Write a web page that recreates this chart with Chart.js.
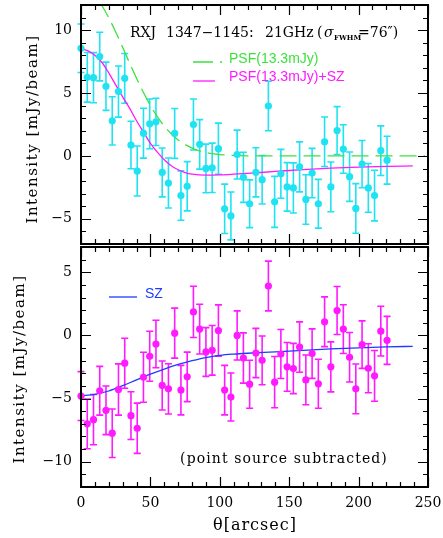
<!DOCTYPE html>
<html>
<head>
<meta charset="utf-8">
<script src="https://cdn.jsdelivr.net/npm/chart.js@4.4.0/dist/chart.umd.min.js"></script>
<style>
  html, body { margin: 0; padding: 0; background: #fff; }
  #wrap { position: relative; width: 443px; height: 538px; overflow: hidden; }
  canvas { position: absolute; left: 0; }
  #top { top: 0; }
  #bottom { top: 240px; }
</style>
</head>
<body>
<div id="wrap">
  <canvas id="top" width="443" height="248"></canvas>
  <canvas id="bottom" width="443" height="298"></canvas>
</div>
<script>
// radial bins (arcsec)
const theta = [0, 4.5, 9, 13.5, 18, 22.5, 27, 31.5, 36, 40.5, 45, 49.5, 54, 58.5, 63, 67.5,
  72, 76.5, 81, 85.5, 90, 94.5, 99, 103.5, 108, 112.5, 117, 121.5, 126, 130.5, 135, 139.5,
  144, 148.5, 153, 157.5, 162, 166.5, 171, 175.5, 180, 184.5, 189, 193.5, 198, 202.5, 207,
  211.5, 216, 220.5];

// measured profile (top panel)
const totalI = [8.56, 6.25, 6.22, 7.9, 5.54, 2.79, 5.12, 6.17, 0.87, -1.2, 1.81, 2.55, 2.71,
  -1.31, -2.15, 1.79, -3.15, -2.41, 2.5, 0.92, -0.99, -0.94, 0.58, -4.2, -4.77, 0.11, -1.7,
  -3.8, -1.3, -1.89, 3.97, -3.65, -1.42, -2.46, -2.54, -0.87, -3.46, -1.36, -3.8, 1.13, -2.46,
  2.02, 0.55, -1.65, -4.17, -0.65, -2.54, -3.15, 0.42, -0.34];

// point source subtracted profile (bottom panel)
const subI = [-4.8, -7.0, -6.67, -4.38, -5.93, -7.74, -4.28, -2.2, -6.35, -7.35, -3.31, -1.65,
  -0.68, -3.96, -4.23, 0.18, -4.33, -3.28, 1.86, 0.5, -1.31, -1.18, 0.39, -4.33, -4.88, 0.0,
  -1.79, -3.86, -1.39, -1.97, 3.91, -3.7, -1.47, -2.49, -2.62, -0.92, -3.52, -1.44, -3.83,
  1.08, -2.49, 1.97, 0.5, -1.73, -4.23, -0.73, -2.6, -3.2, 0.34, -0.39];

// 1 sigma errors
const errI = [1.93, 1.97, 1.99, 1.93, 1.92, 1.92, 2.03, 1.98, 1.89, 1.99, 1.98, 1.98, 1.88,
  1.94, 1.99, 1.98, 1.96, 1.96, 2.03, 1.97, 1.93, 1.96, 2.03, 1.96, 1.9, 1.94, 1.99, 1.9, 1.95,
  1.93, 1.97, 2.03, 1.94, 1.93, 1.99, 1.99, 1.97, 1.96, 1.94, 1.97, 1.98, 1.9, 1.93, 1.96,
  1.97, 1.88, 1.94, 2.01, 1.97, 1.9];

// model curves
const psfTheta = [0, 5, 10, 15, 20, 25, 30, 35, 40, 45, 50, 55, 60, 65, 70, 80, 90, 100, 110, 120, 130, 248];
const psfVal = [13.3, 13.14, 12.68, 11.96, 10.98, 9.86, 8.64, 7.39, 6.18, 5.04, 4.01, 3.12, 2.37,
  1.76, 1.27, 0.62, 0.27, 0.11, 0.04, 0.01, 0, 0];

const psfSzTheta = [0, 5, 10, 15, 20, 25, 30, 35, 40, 45, 50, 55, 60, 65, 70, 75, 80, 90, 100,
  110, 120, 140, 160, 180, 200, 220, 239];
const psfSzVal = [8.55, 8.35, 8.0, 7.45, 6.6, 5.65, 4.7, 3.8, 2.8, 1.9, 1.0, 0.3, -0.3, -0.78,
  -1.1, -1.32, -1.45, -1.52, -1.5, -1.45, -1.39, -1.23, -1.08, -0.97, -0.89, -0.83, -0.79];

const szTheta = [0, 10, 20, 30, 40, 50, 60, 70, 80, 90, 100, 110, 120, 140, 160, 180, 200, 220, 239];
const szVal = [-4.78, -4.66, -4.4, -3.98, -3.52, -3.07, -2.66, -2.3, -2.0, -1.75, -1.58, -1.48,
  -1.41, -1.3, -1.18, -1.07, -0.98, -0.91, -0.86];

// tick labels
const xTicks = [0, 50, 100, 150, 200, 250];
const topYTicks = [-5, 0, 5, 10];
const bottomYTicks = [-10, -5, 0, 5];

const CYAN = '#1fe3f3';
const MAGENTA = '#ff1aff';
const GREEN = '#3ce23c';
const BLUE = '#1e3cff';
const SERIF = '"DejaVu Serif", serif';
const SANS = '"Liberation Sans", Arial, sans-serif';

const pts = (xs, ys) => xs.map((x, i) => ({ x: x, y: ys[i] }));
const minus = v => (v < 0 ? '\u2212' + Math.abs(v) : String(v));

// drop the label overhang margins so the plot box sits where the padding says
function noOverhang(s) {
  s.paddingTop = 0; s.paddingBottom = 0; s.paddingLeft = 0; s.paddingRight = 0;
}

// inward ticks on all four sides plus the box
const framePlugin = {
  id: 'frame',
  afterDraw(chart) {
    const { ctx, chartArea: a } = chart;
    const xs = chart.scales.x, ys = chart.scales.y;
    ctx.save();
    ctx.strokeStyle = '#000';
    ctx.lineWidth = 1.2;
    ctx.beginPath();
    for (let v = 0; v <= 250; v += 10) {
      const px = Math.round(xs.getPixelForValue(v)) + 0.5;
      const len = v % 50 === 0 ? 10 : 5;
      ctx.moveTo(px, a.bottom); ctx.lineTo(px, a.bottom - len);
      ctx.moveTo(px, a.top); ctx.lineTo(px, a.top + len);
    }
    for (let v = Math.ceil(ys.min); v <= ys.max; v++) {
      const py = Math.round(ys.getPixelForValue(v)) + 0.5;
      const len = v % 5 === 0 ? 10 : 5;
      ctx.moveTo(a.left, py); ctx.lineTo(a.left + len, py);
      ctx.moveTo(a.right, py); ctx.lineTo(a.right - len, py);
    }
    ctx.stroke();
    ctx.lineWidth = 2;
    ctx.strokeRect(a.left, a.top, a.right - a.left, a.bottom - a.top);
    ctx.restore();
  }
};

// vertical error bars with caps, under the points
const errorBarPlugin = {
  id: 'errbars',
  beforeDatasetsDraw(chart) {
    const { ctx } = chart;
    const xs = chart.scales.x, ys = chart.scales.y;
    chart.data.datasets.forEach(ds => {
      if (!ds.errors) return;
      ctx.save();
      ctx.strokeStyle = ds.backgroundColor;
      ctx.lineWidth = 1.6;
      ctx.beginPath();
      ds.data.forEach((p, i) => {
        const px = xs.getPixelForValue(p.x);
        const y1 = ys.getPixelForValue(p.y + ds.errors[i]);
        const y2 = ys.getPixelForValue(p.y - ds.errors[i]);
        ctx.moveTo(px, y1); ctx.lineTo(px, y2);
        ctx.moveTo(px - 3.5, y1); ctx.lineTo(px + 3.5, y1);
        ctx.moveTo(px - 3.5, y2); ctx.lineTo(px + 3.5, y2);
      });
      ctx.stroke();
      ctx.restore();
    });
  }
};

function yTitle(ctx, cx, cy) {
  ctx.save();
  ctx.translate(cx, cy);
  ctx.rotate(-Math.PI / 2);
  ctx.font = '15px ' + SERIF;
  ctx.letterSpacing = '1.5px';
  ctx.fillStyle = '#000';
  ctx.textAlign = 'center';
  ctx.textBaseline = 'middle';
  ctx.fillText('Intensity [mJy/beam]', 0, 0);
  ctx.restore();
}

const topNotes = {
  id: 'topNotes',
  afterDraw(chart) {
    const ctx = chart.ctx;
    ctx.save();
    ctx.fillStyle = '#000';
    ctx.font = '14px ' + SERIF;
    ctx.textBaseline = 'alphabetic';
    ctx.fillText('RXJ', 130, 37);
    ctx.fillText('1347\u22121145:', 166, 37);
    ctx.fillText('21GHz', 265, 37);
    ctx.fillText('(', 317, 37);
    ctx.font = 'italic 14px ' + SERIF;
    ctx.fillText('\u03c3', 324, 37);
    ctx.font = 'bold 7px ' + SERIF;
    ctx.fillText('FWHM', 334, 40);
    ctx.font = '14px ' + SERIF;
    ctx.fillText('=76\u2033)', 358, 37);

    // legend
    ctx.lineWidth = 1.3;
    ctx.strokeStyle = GREEN;
    ctx.setLineDash([20, 7]);
    ctx.beginPath(); ctx.moveTo(193, 62); ctx.lineTo(222, 62); ctx.stroke();
    ctx.setLineDash([]);
    ctx.strokeStyle = MAGENTA;
    ctx.beginPath(); ctx.moveTo(193, 81); ctx.lineTo(215, 81); ctx.stroke();
    ctx.font = '14px ' + SANS;
    ctx.fillStyle = GREEN;
    ctx.fillText('PSF(13.3mJy)', 229, 63);
    ctx.fillStyle = MAGENTA;
    ctx.fillText('PSF(13.3mJy)+SZ', 229, 81);
    yTitle(ctx, 33, 129);
    ctx.restore();
  }
};

const bottomNotes = {
  id: 'bottomNotes',
  afterDraw(chart) {
    const ctx = chart.ctx;
    ctx.save();
    ctx.strokeStyle = BLUE;
    ctx.lineWidth = 1.3;
    ctx.beginPath(); ctx.moveTo(109, 57); ctx.lineTo(137, 57); ctx.stroke();
    ctx.fillStyle = BLUE;
    ctx.font = '14px ' + SANS;
    ctx.fillText('SZ', 145, 58);
    ctx.fillStyle = '#000';
    ctx.font = '14px ' + SERIF;
    ctx.textAlign = 'center';
    ctx.letterSpacing = '1.1px';
    ctx.fillText('(point source subtracted)', 284, 223);
    ctx.font = '16px ' + SERIF;
    ctx.letterSpacing = '1px';
    ctx.fillText('\u03b8[arcsec]', 255, 290);
    ctx.letterSpacing = '0px';
    yTitle(ctx, 20, 129);
    ctx.restore();
  }
};

function yScale(min, max, ticks) {
  return {
    type: 'linear', min: min, max: max,
    afterFit: s => { s.width = 81; noOverhang(s); },
    afterBuildTicks: s => { s.ticks = ticks.map(v => ({ value: v })); },
    grid: { display: false, drawTicks: false },
    border: { display: false },
    ticks: { padding: 9, color: '#000', font: { family: SERIF, size: 14 }, callback: minus }
  };
}

const common = {
  responsive: false,
  animation: false,
  devicePixelRatio: 1,
  plugins: { legend: { display: false }, tooltip: { enabled: false } }
};

new Chart(document.getElementById('top'), {
  type: 'scatter',
  data: {
    datasets: [
      { data: pts(theta, totalI), errors: errI, backgroundColor: CYAN, borderColor: CYAN,
        pointRadius: 3.6, borderWidth: 0, clip: false },
      { data: pts(psfTheta, psfVal), showLine: true, borderColor: GREEN, borderWidth: 1.3,
        borderDash: [17, 7], pointRadius: 0, cubicInterpolationMode: 'monotone' },
      { data: pts(psfSzTheta, psfSzVal), showLine: true, borderColor: MAGENTA, borderWidth: 1.3,
        pointRadius: 0, cubicInterpolationMode: 'monotone' }
    ]
  },
  options: Object.assign({}, common, {
    layout: { padding: { left: 0, right: 15, top: 5, bottom: 1 } },
    scales: {
      x: { type: 'linear', min: 0, max: 250, display: false, afterFit: noOverhang },
      y: yScale(-7, 12, topYTicks)
    }
  }),
  plugins: [errorBarPlugin, framePlugin, topNotes]
});

new Chart(document.getElementById('bottom'), {
  type: 'scatter',
  data: {
    datasets: [
      { data: pts(theta, subI), errors: errI, backgroundColor: MAGENTA, borderColor: MAGENTA,
        pointRadius: 3.6, borderWidth: 0, clip: false },
      { data: pts(szTheta, szVal), showLine: true, borderColor: BLUE, borderWidth: 1.3,
        pointRadius: 0, cubicInterpolationMode: 'monotone' }
    ]
  },
  options: Object.assign({}, common, {
    layout: { padding: { left: 0, right: 15, top: 7, bottom: 0 } },
    scales: {
      x: {
        type: 'linear', min: 0, max: 250,
        afterFit: s => { s.height = 51; noOverhang(s); },
        afterBuildTicks: s => { s.ticks = xTicks.map(v => ({ value: v })); },
        grid: { display: false, drawTicks: false },
        border: { display: false },
        ticks: { padding: 8, maxRotation: 0, autoSkip: false, color: '#000',
                 font: { family: SERIF, size: 14 } }
      },
      y: yScale(-12, 7, bottomYTicks)
    }
  }),
  plugins: [errorBarPlugin, framePlugin, bottomNotes]
});
</script>
</body>
</html>
